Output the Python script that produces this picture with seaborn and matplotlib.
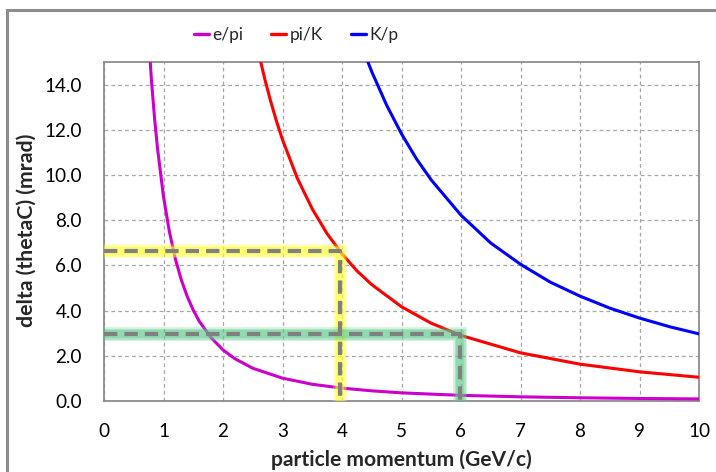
import matplotlib
matplotlib.use("Agg")
import matplotlib.pyplot as plt
import numpy as np
import pandas as pd
import seaborn as sns
from matplotlib.patches import Rectangle
from matplotlib.ticker import FormatStrFormatter

# ---- data ----
pairs = ["e/pi", "pi/K", "K/p"]
colors = {"e/pi": "#CC00CC", "pi/K": "#FF0000", "K/p": "#0000FF"}

p_epi = [0.75, 0.8, 0.85, 0.9, 1.0, 1.1, 1.2, 1.3, 1.4, 1.5, 1.6, 1.8, 2.0, 2.2,
         2.5, 3.0, 3.5, 4.0, 4.5, 5.0, 6.0, 7.0, 8.0, 9.0, 10.0]
d_epi = [16.05, 14.11, 12.50, 11.16, 9.04, 7.48, 6.28, 5.35, 4.62, 4.02, 3.53, 2.80,
         2.26, 1.87, 1.45, 1.01, 0.74, 0.57, 0.45, 0.36, 0.25, 0.185, 0.142, 0.112, 0.091]

p_piK = [2.6, 2.7, 2.8, 2.9, 3.0, 3.25, 3.5, 3.75, 4.0, 4.25, 4.5, 5.0, 5.5, 6.0,
         7.0, 8.0, 9.0, 10.0]
d_piK = [15.38, 14.27, 13.27, 12.37, 11.56, 9.85, 8.50, 7.40, 6.51, 5.76, 5.15, 4.17,
         3.44, 2.90, 2.13, 1.63, 1.29, 1.05]

p_Kp = [4.4, 4.5, 4.75, 5.0, 5.25, 5.5, 6.0, 6.5, 7.0, 7.5, 8.0, 8.5, 9.0, 9.5, 10.0]
d_Kp = [15.24, 14.57, 13.09, 11.82, 10.72, 9.78, 8.22, 6.99, 6.05, 5.26, 4.64, 4.11,
        3.67, 3.29, 2.97]

# highlighted read-off lines
mark_p = [3.96, 5.98]
mark_d = [6.65, 2.96]
mark_glow = ["#FFFF33", "#5CCB8A"]

x_ticks = list(range(0, 11))
y_ticks = [0, 2, 4, 6, 8, 10, 12, 14]

df = pd.concat([
    pd.DataFrame({"p": p_epi, "d": d_epi, "pair": "e/pi"}),
    pd.DataFrame({"p": p_piK, "d": d_piK, "pair": "pi/K"}),
    pd.DataFrame({"p": p_Kp, "d": d_Kp, "pair": "K/p"}),
], ignore_index=True)

sns.set_style("white")
plt.rcParams["font.family"] = ["Lato", "DejaVu Sans"]

W, H = 716, 472
fig = plt.figure(figsize=(W / 100, H / 100), dpi=100)
ax_l, ax_r, ax_t, ax_b = 104, 699, 62, 401
ax = fig.add_axes([ax_l / W, 1 - ax_b / H, (ax_r - ax_l) / W, (ax_b - ax_t) / H])

sns.lineplot(data=df, x="p", y="d", hue="pair", hue_order=pairs, palette=colors,
             lw=2.2, ax=ax, sort=False, estimator=None, zorder=3)

# highlight lines with glow
for px, dy, gc in zip(mark_p, mark_d, mark_glow):
    xs = [0, px, px]
    ys = [dy, dy, 0]
    for w, a in [(10, 0.25), (8, 0.3), (6, 0.4)]:
        ax.plot(xs, ys, color=gc, lw=w, alpha=a, solid_joinstyle="miter",
                solid_capstyle="butt", zorder=4)
    ax.plot(xs, ys, color="#808080", lw=3, dashes=(3.2, 1.7), zorder=5,
            dash_capstyle="butt")

ax.set_xlim(0, 10)
ax.set_ylim(0, 15)
ax.set_xticks(x_ticks)
ax.set_yticks(y_ticks)
ax.yaxis.set_major_formatter(FormatStrFormatter("%.1f"))
ax.grid(True, ls=(0, (3, 2.5)), color="#A6A6A6", lw=0.9)
ax.set_axisbelow(True)
for s in ax.spines.values():
    s.set_color("#8C8C8C")
    s.set_linewidth(1.3)
ax.tick_params(axis="both", direction="out", length=4.5, width=1.0, color="#8C8C8C",
               labelsize=12, pad=11.5, labelcolor="black")

ax.set_xlabel("particle momentum (GeV/c)", fontsize=14, fontweight="bold")
ax.set_ylabel("delta (thetaC) (mrad)", fontsize=14, fontweight="bold")

# fit text sizes to the extents measured on the reference
fig.canvas.draw()
r = fig.canvas.get_renderer()
xl = ax.xaxis.label
xl.set_fontsize(14 * 262 / xl.get_window_extent(r).width)
yl = ax.yaxis.label
yl.set_fontsize(14 * 196 / yl.get_window_extent(r).height)
lab14 = [t for t in ax.get_yticklabels() if t.get_text() == "14.0"][0]
tick_fs = 12 * 37 / lab14.get_window_extent(r).width
ax.tick_params(axis="both", labelsize=tick_fs)

xl.set_va("center")
ax.xaxis.set_label_coords(0.5, (H - 460 - (H - ax_b)) / (ax_b - ax_t))
yl.set_va("center")
ax.yaxis.set_label_coords((27 - ax_l) / (ax_r - ax_l), (ax_b - 230) / (ax_b - ax_t))

h, l = ax.get_legend_handles_labels()
ax.get_legend().remove()
leg_fs = 12.5
t = fig.text(0, 0, "e/pi", fontsize=leg_fs)
w_text = t.get_window_extent(r).width
t.remove()
em = leg_fs * 100 / 72
leg = fig.legend(h, l, ncol=3, loc="center", bbox_to_anchor=(296 / W, 1 - 35 / H),
                 frameon=False, handlelength=15 / em, handletextpad=3 / em,
                 columnspacing=max(77.5 - 18 - w_text, 20) / em, fontsize=leg_fs,
                 borderpad=0)
for line in leg.get_lines():
    line.set_linewidth(2.4)

fig.patches.append(Rectangle((7 / W, -0.1), 1.2, 1 - 10 / H + 0.1,
                             transform=fig.transFigure, fill=False,
                             edgecolor="#8C8C8C", lw=2.2, zorder=0))

fig.savefig("out.png", dpi=100)
